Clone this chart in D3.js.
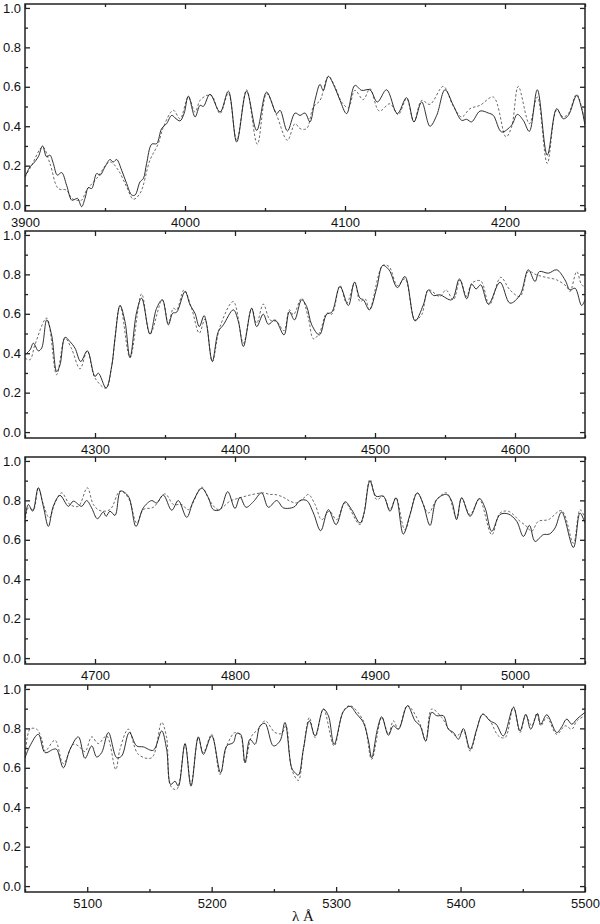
<!DOCTYPE html>
<html><head><meta charset="utf-8">
<script src="https://cdn.jsdelivr.net/npm/d3@7"></script>
<style>body{margin:0;background:#fff} svg{display:block}</style>
</head><body>
<script>
const panelRanges = [[3900,4250],[4250,4650],[4650,5050],[5050,5500]];
const panelMajorTicks = [[3900,4000,4100,4200],[4300,4400,4500,4600],[4700,4800,4900,5000],[5100,5200,5300,5400,5500]];
const yTickLabels = [0,0.2,0.4,0.6,0.8,1.0];
const yMinorTicks = [0.1,0.3,0.5,0.7,0.9];
const xLabel = "λ Å";

const p1Solid = [[3900,0.143],[3903.1,0.194],[3905.2,0.211],[3908.3,0.245],[3911,0.300],[3913.5,0.245],[3915.6,0.253],[3917.7,0.211],[3920.2,0.152],[3922.9,0.165],[3926,0.101],[3929.2,0.025],[3931.3,0.030],[3932.9,0.034],[3935.4,-0.008],[3937.5,0.034],[3939.6,0.089],[3941.7,0.084],[3944.8,0.160],[3946.9,0.152],[3950,0.194],[3953.1,0.231],[3955.2,0.219],[3957.3,0.231],[3960.4,0.177],[3963.5,0.110],[3966.7,0.051],[3968.8,0.051],[3971.9,0.118],[3974,0.135],[3976,0.211],[3979.2,0.309],[3982.3,0.312],[3985.4,0.388],[3988.5,0.413],[3991.7,0.455],[3994.4,0.438],[3996.9,0.427],[3999.4,0.464],[4002.1,0.553],[4006.3,0.447],[4009.4,0.506],[4011.5,0.501],[4015.6,0.562],[4021.9,0.472],[4027.1,0.578],[4032.3,0.320],[4038.5,0.578],[4044.8,0.379],[4051,0.573],[4057.3,0.464],[4059.4,0.481],[4064,0.376],[4068.8,0.467],[4071.9,0.455],[4075,0.467],[4078.1,0.422],[4081.2,0.531],[4084.4,0.612],[4086.4,0.582],[4089.6,0.653],[4093.7,0.595],[4096.9,0.531],[4101,0.464],[4106.2,0.607],[4110.4,0.582],[4115.6,0.585],[4120.2,0.523],[4126,0.585],[4132.7,0.464],[4138.5,0.545],[4143.1,0.422],[4147.9,0.523],[4153.1,0.400],[4157.3,0.455],[4162.5,0.585],[4167.7,0.506],[4172.9,0.430],[4176,0.435],[4179.1,0.422],[4184.4,0.477],[4189.6,0.467],[4192.7,0.455],[4197.9,0.371],[4204.1,0.405],[4207.7,0.460],[4211.4,0.430],[4215.2,0.374],[4220.2,0.585],[4226.4,0.253],[4232.3,0.489],[4236.4,0.438],[4239.6,0.455],[4244.8,0.556],[4247.9,0.489],[4250,0.405]];
const p1Dashed = [[3900,0.143],[3904.2,0.202],[3911,0.295],[3915.6,0.211],[3920.8,0.084],[3926,0.076],[3929.2,0.034],[3932.3,0.025],[3935.4,0.025],[3938.5,0.076],[3944.8,0.135],[3953.1,0.219],[3958.3,0.177],[3963.5,0.093],[3967.7,0.030],[3971.9,0.059],[3978.1,0.228],[3983.3,0.312],[3986.5,0.396],[3992.7,0.481],[3996.9,0.438],[4002.1,0.548],[4006.3,0.472],[4009.4,0.531],[4013.5,0.556],[4016.7,0.556],[4021.9,0.464],[4027.1,0.568],[4032.3,0.329],[4038.5,0.585],[4045.2,0.309],[4051,0.565],[4057.3,0.455],[4064,0.329],[4068.8,0.413],[4071.9,0.388],[4076,0.388],[4080.2,0.497],[4084.4,0.531],[4089.6,0.653],[4093.7,0.602],[4097.9,0.523],[4102.1,0.494],[4106.2,0.582],[4111.4,0.535],[4115.6,0.590],[4121.4,0.477],[4128.1,0.514],[4133.3,0.459],[4138.5,0.540],[4143.1,0.422],[4147.9,0.531],[4153.1,0.511],[4161.4,0.602],[4167.7,0.501],[4172.9,0.447],[4178.1,0.489],[4184.4,0.506],[4192.7,0.548],[4200.6,0.346],[4204.1,0.396],[4208.3,0.602],[4215.2,0.413],[4220.2,0.548],[4226.4,0.211],[4232.3,0.481],[4236.4,0.447],[4239.6,0.464],[4244.8,0.562],[4250,0.413]];

const p2Solid = [[4250,0.392],[4253.6,0.417],[4256,0.451],[4259.5,0.412],[4261.9,0.426],[4265.5,0.569],[4269,0.493],[4272.6,0.307],[4275,0.341],[4278.6,0.481],[4282.1,0.459],[4285.7,0.426],[4289.8,0.358],[4294.5,0.412],[4300,0.282],[4302.4,0.299],[4307.9,0.223],[4311.9,0.333],[4314.3,0.476],[4317.9,0.642],[4321.4,0.561],[4325,0.378],[4329.8,0.611],[4333.3,0.679],[4339.3,0.497],[4344,0.628],[4348.1,0.671],[4352.4,0.544],[4355.5,0.603],[4358.3,0.608],[4364.3,0.713],[4367.9,0.645],[4371.4,0.603],[4374.5,0.535],[4377.9,0.591],[4379.8,0.544],[4383.8,0.358],[4388.1,0.510],[4391.7,0.544],[4398.8,0.620],[4402.4,0.561],[4406,0.434],[4411.9,0.628],[4415.5,0.535],[4420.2,0.598],[4423.8,0.547],[4428.6,0.569],[4435,0.493],[4438.8,0.611],[4442.5,0.569],[4447.6,0.671],[4451.2,0.637],[4454.8,0.544],[4460.3,0.493],[4465.5,0.598],[4469.1,0.608],[4475,0.738],[4481,0.642],[4485.3,0.760],[4489.3,0.679],[4491.7,0.671],[4496,0.620],[4501.2,0.730],[4505.5,0.845],[4510,0.823],[4516,0.733],[4521.4,0.789],[4528.6,0.564],[4534.5,0.645],[4538.1,0.721],[4541.7,0.693],[4546.4,0.696],[4554.8,0.671],[4560.3,0.777],[4565.5,0.676],[4569.1,0.750],[4572.2,0.726],[4575.5,0.747],[4581,0.649],[4589.3,0.760],[4596.4,0.654],[4603.6,0.696],[4609.5,0.823],[4614.3,0.764],[4617.4,0.814],[4623.8,0.806],[4629.8,0.823],[4635.7,0.772],[4639.3,0.721],[4642.9,0.730],[4647.6,0.642],[4650,0.671]];
const p2Dashed = [[4250,0.375],[4253.6,0.367],[4257.1,0.443],[4265.5,0.578],[4272.6,0.291],[4278.6,0.476],[4283.3,0.422],[4289.3,0.321],[4294.5,0.412],[4300,0.274],[4307.9,0.223],[4311.9,0.333],[4317.9,0.642],[4325,0.378],[4333.3,0.701],[4339.3,0.497],[4348.1,0.671],[4352.4,0.552],[4356,0.628],[4358.3,0.620],[4363.6,0.721],[4369,0.628],[4374.5,0.502],[4378.6,0.574],[4383.8,0.358],[4389.3,0.535],[4398.8,0.662],[4406,0.451],[4411.9,0.628],[4415.5,0.552],[4420.2,0.649],[4425,0.569],[4429.8,0.561],[4435,0.514],[4438.8,0.620],[4441.7,0.595],[4447.6,0.679],[4452.4,0.578],[4456,0.473],[4460.3,0.502],[4465.5,0.603],[4469.1,0.598],[4475,0.743],[4479.8,0.654],[4485.7,0.760],[4489.3,0.662],[4492.9,0.676],[4496,0.620],[4505.5,0.845],[4510,0.840],[4516,0.743],[4521.4,0.777],[4528.6,0.569],[4533.3,0.595],[4538.1,0.721],[4546.4,0.688],[4550.7,0.721],[4556,0.671],[4560.7,0.772],[4565.5,0.688],[4569.1,0.755],[4575.5,0.767],[4581.7,0.645],[4589.8,0.785],[4596.4,0.721],[4603.6,0.688],[4609.5,0.814],[4615.5,0.797],[4622.6,0.784],[4629.8,0.772],[4636.9,0.738],[4639.3,0.713],[4644.1,0.814],[4647.6,0.747],[4650,0.738]];

const p3Solid = [[4650,0.711],[4652.4,0.779],[4655.5,0.745],[4659.5,0.864],[4663.1,0.770],[4666.7,0.668],[4670.2,0.770],[4675,0.825],[4681,0.770],[4684.5,0.796],[4690.5,0.770],[4694,0.799],[4697.6,0.762],[4701.7,0.707],[4706,0.741],[4707.9,0.719],[4710.7,0.745],[4714.3,0.724],[4718.3,0.847],[4723.8,0.821],[4729.3,0.668],[4734.5,0.762],[4740.5,0.799],[4744,0.787],[4748.8,0.827],[4754.8,0.750],[4759.5,0.799],[4765.5,0.714],[4770.2,0.796],[4776.2,0.861],[4781,0.813],[4784.5,0.753],[4789.3,0.753],[4794.8,0.844],[4800,0.759],[4803.6,0.816],[4807.9,0.765],[4813.1,0.793],[4819,0.838],[4823.8,0.765],[4829.8,0.799],[4834.5,0.762],[4840.5,0.762],[4842.9,0.770],[4846.4,0.799],[4851.2,0.799],[4856,0.736],[4861.2,0.646],[4866.7,0.753],[4872.2,0.677],[4878.6,0.793],[4883.3,0.753],[4889.3,0.685],[4892.2,0.736],[4896.4,0.898],[4900.7,0.821],[4906,0.821],[4910.7,0.745],[4915,0.813],[4920.2,0.629],[4925,0.728],[4930.2,0.838],[4934.5,0.779],[4939.3,0.673],[4944.1,0.804],[4951.2,0.830],[4954.8,0.796],[4958.3,0.702],[4961.9,0.813],[4967.9,0.719],[4974.5,0.810],[4978.6,0.762],[4983.4,0.643],[4989.3,0.728],[4995.2,0.731],[5001.2,0.694],[5006,0.617],[5010.3,0.673],[5014.3,0.592],[5020.2,0.626],[5024.5,0.629],[5028.6,0.660],[5033.3,0.741],[5041.7,0.561],[5046.4,0.736],[5050,0.685]];
const p3Dashed = [[4650,0.685],[4652.4,0.762],[4656,0.753],[4659.5,0.864],[4663.1,0.779],[4667.4,0.711],[4671.4,0.787],[4676.2,0.838],[4682.1,0.779],[4688.1,0.770],[4694.5,0.864],[4698.8,0.779],[4703.6,0.748],[4710.7,0.753],[4717.9,0.847],[4723.8,0.813],[4729.8,0.685],[4734.5,0.753],[4741.7,0.765],[4750,0.833],[4756,0.779],[4761.9,0.779],[4766.7,0.753],[4776.2,0.867],[4782.1,0.796],[4788.1,0.753],[4796.4,0.796],[4803.6,0.813],[4810.7,0.827],[4820.2,0.838],[4825,0.830],[4828.6,0.830],[4834.5,0.816],[4839.3,0.796],[4844.1,0.787],[4848.8,0.810],[4852.4,0.830],[4857.2,0.779],[4861.9,0.702],[4867.4,0.745],[4872.6,0.702],[4878.6,0.787],[4889.3,0.677],[4896.4,0.906],[4901.2,0.804],[4906,0.821],[4910.7,0.753],[4915,0.813],[4921.4,0.651],[4930.2,0.838],[4938.1,0.736],[4944.1,0.804],[4951.2,0.838],[4958.3,0.711],[4961.9,0.813],[4967.9,0.728],[4974.5,0.804],[4983.4,0.626],[4989.3,0.736],[4995.2,0.745],[5003.6,0.694],[5008.3,0.668],[5011.9,0.643],[5016.7,0.694],[5023.8,0.702],[5033.3,0.748],[5041.7,0.583],[5046.4,0.753],[5050,0.711]];

const p4Solid = [[5050,0.651],[5054,0.711],[5060.7,0.770],[5066.1,0.677],[5072.8,0.694],[5075.4,0.694],[5080.8,0.600],[5086.2,0.694],[5092.9,0.757],[5098.2,0.648],[5103.6,0.711],[5107.6,0.655],[5111.6,0.677],[5117,0.779],[5123.7,0.651],[5127.7,0.660],[5133.8,0.779],[5139.7,0.711],[5145.1,0.706],[5153.1,0.689],[5159.8,0.787],[5163.8,0.694],[5167.1,0.515],[5170.5,0.532],[5173.2,0.507],[5178.6,0.723],[5183.4,0.507],[5189.3,0.757],[5193.3,0.668],[5200,0.762],[5207.2,0.575],[5212.1,0.711],[5217.4,0.728],[5220.1,0.774],[5223.3,0.770],[5226.8,0.626],[5230.8,0.745],[5234.8,0.719],[5238.9,0.813],[5242.9,0.825],[5249.6,0.711],[5254.9,0.736],[5258.9,0.830],[5264.3,0.600],[5267,0.575],[5269.7,0.563],[5273.7,0.694],[5278.5,0.838],[5283.1,0.762],[5289.8,0.898],[5293.8,0.864],[5298.4,0.719],[5305.9,0.886],[5311.2,0.912],[5316.6,0.872],[5321.9,0.830],[5326,0.736],[5328.6,0.651],[5333.2,0.796],[5336.7,0.859],[5342,0.765],[5346,0.813],[5350.1,0.796],[5357.3,0.915],[5363.5,0.838],[5367.5,0.813],[5372,0.736],[5376.8,0.881],[5380.9,0.864],[5386.2,0.864],[5390.2,0.796],[5394.3,0.779],[5398.3,0.745],[5402.3,0.799],[5407.7,0.694],[5413,0.796],[5417.8,0.872],[5423.7,0.838],[5428.6,0.821],[5434.4,0.762],[5442.5,0.906],[5447.8,0.787],[5452.4,0.872],[5456.4,0.796],[5461.8,0.876],[5464.4,0.821],[5469.3,0.869],[5477.3,0.779],[5481.3,0.808],[5485.3,0.847],[5489.4,0.821],[5493.4,0.847],[5500,0.881]];
const p4Dashed = [[5050,0.626],[5054,0.796],[5059.4,0.796],[5063.4,0.745],[5066.1,0.685],[5074.1,0.740],[5080.8,0.621],[5088.8,0.719],[5092.9,0.711],[5098.2,0.682],[5103.6,0.757],[5108.9,0.723],[5115.6,0.762],[5122.9,0.592],[5126.3,0.694],[5133,0.796],[5141.1,0.668],[5151.8,0.651],[5159.8,0.830],[5163.8,0.753],[5167.1,0.507],[5171.9,0.490],[5178.6,0.719],[5183.4,0.515],[5189.3,0.753],[5193.3,0.677],[5200,0.770],[5206.7,0.566],[5212.1,0.711],[5218.8,0.779],[5223.3,0.762],[5226.8,0.626],[5232.2,0.762],[5237.5,0.796],[5242.9,0.838],[5250.9,0.779],[5256.2,0.774],[5259.7,0.813],[5264.3,0.592],[5269.7,0.536],[5273.7,0.694],[5278.5,0.855],[5283.1,0.753],[5289.8,0.898],[5298.4,0.711],[5305.9,0.889],[5311.2,0.915],[5321.9,0.838],[5328.6,0.643],[5336.7,0.855],[5342,0.770],[5346,0.838],[5350.1,0.796],[5357.3,0.915],[5367.5,0.821],[5372,0.736],[5376.8,0.898],[5384.9,0.855],[5391.6,0.787],[5396.9,0.762],[5402.3,0.787],[5407.7,0.685],[5417.8,0.872],[5423.7,0.838],[5430.4,0.762],[5435.8,0.753],[5442.5,0.910],[5447.8,0.779],[5452.4,0.864],[5457.2,0.813],[5461.3,0.876],[5464.4,0.813],[5469.3,0.855],[5477.3,0.770],[5484,0.813],[5489.4,0.796],[5493.4,0.838],[5500,0.864]];

const solidSeries = [p1Solid, p2Solid, p3Solid, p4Solid];
const dashedSeries = [p1Dashed, p2Dashed, p3Dashed, p4Dashed];

const W = 600, H = 924;
const left = 25, right = 585;
const panelTops = [4, 231, 457, 685];
const panelH = 207;
const yDomain = [-0.03, 1.02];

const svg = d3.select("body").append("svg").attr("width", W).attr("height", H);
const font = "'Liberation Sans', Arial, sans-serif";

panelRanges.forEach((rng, i) => {
  const top = panelTops[i], bottom = top + panelH;
  const x = d3.scaleLinear().domain(rng).range([left, right]);
  const y = d3.scaleLinear().domain(yDomain).range([bottom, top]);
  const g = svg.append("g");

  const clipId = "clip" + i;
  svg.append("clipPath").attr("id", clipId).append("rect")
    .attr("x", left).attr("y", top).attr("width", right - left).attr("height", panelH);

  const line = d3.line().x(d => x(d[0])).y(d => y(d[1])).curve(d3.curveCatmullRom.alpha(0.5));

  g.append("path").datum(dashedSeries[i]).attr("clip-path", `url(#${clipId})`)
    .attr("d", line).attr("fill", "none").attr("stroke", "#444")
    .attr("stroke-width", 0.8).attr("stroke-dasharray", "2.5,2");
  g.append("path").datum(solidSeries[i]).attr("clip-path", `url(#${clipId})`)
    .attr("d", line).attr("fill", "none").attr("stroke", "#1a1a1a")
    .attr("stroke-width", 0.9);

  const minorX = d3.range(Math.ceil(rng[0] / 50) * 50, rng[1] + 1, 50).filter(v => v % 100 !== 0);

  const styleAxis = sel => {
    sel.selectAll("path.domain").remove();
    sel.selectAll("line").attr("stroke", "#222").attr("stroke-width", 1.3);
    sel.selectAll("text").attr("font-family", font).attr("font-size", 13).attr("fill", "#111");
  };

  g.append("g").attr("transform", `translate(0,${bottom})`)
    .call(d3.axisBottom(x).tickValues(panelMajorTicks[i]).tickFormat(d3.format("d")).tickSize(-5).tickSizeOuter(0).tickPadding(7))
    .call(styleAxis);
  g.append("g").attr("transform", `translate(0,${bottom})`)
    .call(d3.axisBottom(x).tickValues(minorX).tickFormat("").tickSize(-3).tickSizeOuter(0))
    .call(styleAxis);
  g.append("g").attr("transform", `translate(0,${top})`)
    .call(d3.axisTop(x).tickValues(panelMajorTicks[i]).tickFormat("").tickSize(-5).tickSizeOuter(0))
    .call(styleAxis);
  g.append("g").attr("transform", `translate(0,${top})`)
    .call(d3.axisTop(x).tickValues(minorX).tickFormat("").tickSize(-3).tickSizeOuter(0))
    .call(styleAxis);
  g.append("g").attr("transform", `translate(${left},0)`)
    .call(d3.axisLeft(y).tickValues(yTickLabels).tickFormat(d3.format(".1f")).tickSize(-5).tickSizeOuter(0).tickPadding(4))
    .call(styleAxis);
  g.append("g").attr("transform", `translate(${left},0)`)
    .call(d3.axisLeft(y).tickValues(yMinorTicks).tickFormat("").tickSize(-3).tickSizeOuter(0))
    .call(styleAxis);
  g.append("g").attr("transform", `translate(${right},0)`)
    .call(d3.axisRight(y).tickValues(yTickLabels).tickFormat("").tickSize(-5).tickSizeOuter(0))
    .call(styleAxis);
  g.append("g").attr("transform", `translate(${right},0)`)
    .call(d3.axisRight(y).tickValues(yMinorTicks).tickFormat("").tickSize(-3).tickSizeOuter(0))
    .call(styleAxis);

  g.append("rect").attr("x", left).attr("y", top).attr("width", right - left).attr("height", panelH)
    .attr("fill", "none").attr("stroke", "#222").attr("stroke-width", 1.5);
});

svg.append("text").attr("x", 303).attr("y", 921).attr("text-anchor", "middle")
  .attr("font-family", "'Liberation Serif', 'Times New Roman', serif").attr("font-size", 15)
  .attr("fill", "#111").text(xLabel);
</script>
</body></html>
